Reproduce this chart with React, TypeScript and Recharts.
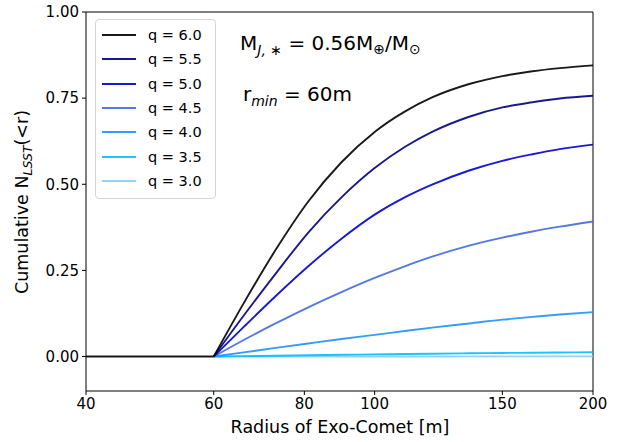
import React from 'react';
import { LineChart, Line, XAxis, YAxis, Legend, ReferenceLine, Customized } from 'recharts';

// Radii (m) at which the cumulative fraction is tabulated, starting at r_min.
const radii = [60, 66, 73, 81, 90, 100, 110, 120, 135, 150, 165, 180, 200];

// Cumulative N_LSST(<r) for each size-distribution slope q.
const q60 = [0, 0.155, 0.309, 0.45, 0.564, 0.652, 0.711, 0.752, 0.791, 0.814, 0.828, 0.837, 0.845];
const q55 = [0, 0.119, 0.24, 0.36, 0.462, 0.547, 0.608, 0.652, 0.696, 0.723, 0.738, 0.749, 0.757];
const q50 = [0, 0.086, 0.175, 0.262, 0.342, 0.412, 0.462, 0.499, 0.54, 0.568, 0.587, 0.602, 0.615];
const q45 = [0, 0.048, 0.096, 0.143, 0.187, 0.228, 0.262, 0.29, 0.322, 0.345, 0.363, 0.377, 0.392];
const q40 = [0, 0.012, 0.025, 0.038, 0.051, 0.063, 0.074, 0.084, 0.096, 0.107, 0.115, 0.122, 0.129];
const q35 = [0, 0.0012, 0.0025, 0.0037, 0.005, 0.0062, 0.0072, 0.0082, 0.0094, 0.0104, 0.0112, 0.0119, 0.0125];
const q30 = [0, 0, 0.0001, 0.0001, 0.0002, 0.0002, 0.0003, 0.0003, 0.0004, 0.0004, 0.0005, 0.0005, 0.0006];

// Below r_min nothing is counted.
const belowMinRadii = [40, 60];
const belowMinValues = [0, 0];

const xTicks = [40, 60, 80, 100, 150, 200];
const yTicks = [0, 0.25, 0.5, 0.75, 1.0];

const FONT = '"DejaVu Sans", sans-serif';

// Drawn from the lowest slope up so that q = 6.0 sits on top.
const series = [
  { key: 'q30', label: 'q = 3.0', color: '#87cefa', values: q30 },
  { key: 'q35', label: 'q = 3.5', color: '#00bfff', values: q35 },
  { key: 'q40', label: 'q = 4.0', color: '#1e90ff', values: q40 },
  { key: 'q45', label: 'q = 4.5', color: '#4169e1', values: q45 },
  { key: 'q50', label: 'q = 5.0', color: '#0000cd', values: q50 },
  { key: 'q55', label: 'q = 5.5', color: '#000080', values: q55 },
  { key: 'q60', label: 'q = 6.0', color: '#000000', values: q60 },
];

const rowMap = new Map<number, Record<string, number>>();
belowMinRadii.forEach((r, i) => {
  rowMap.set(r, { r, flat: belowMinValues[i] });
});
radii.forEach((r, i) => {
  const row = rowMap.get(r) || { r };
  series.forEach((s) => {
    row[s.key] = s.values[i];
  });
  rowMap.set(r, row);
});
const rows = Array.from(rowMap.values()).sort((a, b) => a.r - b.r);

const legendOrder = [...series].reverse();

const LegendBox = () => (
  <div
    style={{
      boxSizing: 'border-box',
      width: 121,
      height: 180,
      border: '1px solid #d6d6d6',
      borderRadius: 4,
      background: 'rgba(255,255,255,0.85)',
      paddingTop: 3,
      fontFamily: FONT,
      fontSize: 14.5,
      color: '#000',
    }}
  >
    {legendOrder.map((s) => (
      <div key={s.key} style={{ height: 24.3, display: 'flex', alignItems: 'center' }}>
        <div
          style={{
            marginLeft: 6,
            width: 34,
            height: 2,
            background: s.color,
            opacity: 0.9,
          }}
        />
        <span style={{ marginLeft: 12, whiteSpace: 'pre' }}>{s.label}</span>
      </div>
    ))}
  </div>
);

const Annotations = () => (
  <g fontFamily={FONT} fill="#000">
    <text x={340} y={433} textAnchor="middle" fontSize={17.5}>
      Radius of Exo-Comet [m]
    </text>
    <text x={28} y={202} textAnchor="middle" fontSize={17.5} transform="rotate(-90 28 202)">
      Cumulative N
      <tspan fontSize={12.5} fontStyle="italic" dy={4}>LSST</tspan>
      <tspan dy={-4}>(&lt;r)</tspan>
    </text>
    <text x={240} y={50} fontSize={20}>
      M
      <tspan fontSize={14} dy={5} fontStyle="italic">J, </tspan>
      <tspan fontSize={14}>∗</tspan>
      <tspan dy={-5}> = 0.56M</tspan>
      <tspan fontSize={14} dy={4}>⊕</tspan>
      <tspan dy={-4}>/M</tspan>
      <tspan fontSize={14} dy={4}>⊙</tspan>
    </text>
    <text x={243} y={101} fontSize={20}>
      r
      <tspan fontSize={14} dy={5} fontStyle="italic">min</tspan>
      <tspan dy={-5}> = 60m</tspan>
    </text>
  </g>
);

export default function App() {
  return (
    <div style={{ position: 'absolute', left: 0, top: 0, width: 622, height: 442, background: '#fff' }}>
      <LineChart
        width={622}
        height={442}
        data={rows}
        margin={{ top: 12, right: 29, bottom: 0, left: 0 }}
      >
        <XAxis
          dataKey="r"
          type="number"
          scale="log"
          domain={[40, 200]}
          ticks={xTicks}
          allowDataOverflow
          height={51}
          tickSize={4}
          tickMargin={3}
          stroke="#000"
          tick={{ fill: '#000', fontSize: 15, fontFamily: FONT }}
          tickFormatter={(v: number) => String(v)}
        />
        <YAxis
          type="number"
          domain={[-0.1, 1.0]}
          ticks={yTicks}
          allowDataOverflow
          width={86}
          tickSize={4}
          tickMargin={3}
          stroke="#000"
          tick={{ fill: '#000', fontSize: 15, fontFamily: FONT }}
          tickFormatter={(v: number) => v.toFixed(2)}
        />
        <ReferenceLine y={1.0} stroke="#000" strokeWidth={1} />
        <ReferenceLine x={200} stroke="#000" strokeWidth={1} />
        {series.map((s) => (
          <Line
            key={s.key}
            dataKey={s.key}
            type="monotone"
            stroke={s.color}
            strokeOpacity={0.9}
            strokeWidth={1.9}
            dot={false}
            activeDot={false}
            connectNulls
            isAnimationActive={false}
          />
        ))}
        <Line
          dataKey="flat"
          type="linear"
          stroke="#000"
          strokeOpacity={0.9}
          strokeWidth={1.9}
          dot={false}
          activeDot={false}
          connectNulls
          isAnimationActive={false}
          legendType="none"
        />
        <Legend
          layout="vertical"
          align="center"
          verticalAlign="middle"
          content={() => <LegendBox />}
          wrapperStyle={{ position: 'absolute', left: 95, top: 19, width: 121, height: 180 }}
        />
        <Customized component={<Annotations />} />
      </LineChart>
    </div>
  );
}
